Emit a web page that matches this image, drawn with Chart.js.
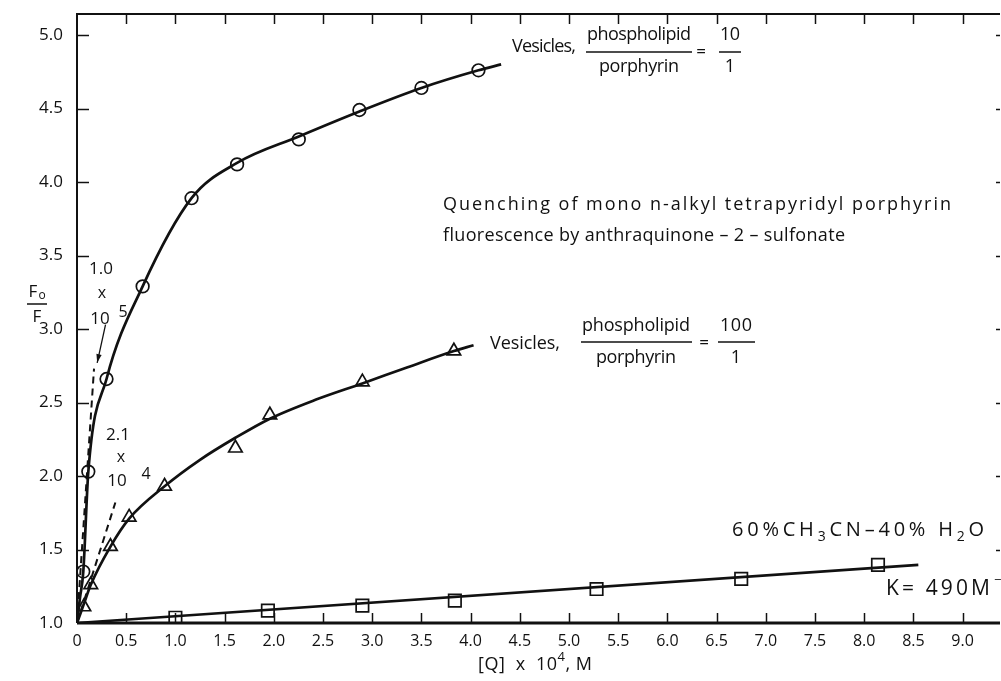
<!DOCTYPE html>
<html><head><meta charset="utf-8">
<script src="https://cdn.jsdelivr.net/npm/chart.js@4.4.1/dist/chart.umd.min.js"></script>
<style>html,body{margin:0;padding:0;background:#fff;}#wrap{width:1001px;height:681px;position:relative;}</style>
</head><body><div id="wrap"><canvas id="c" width="1001" height="681"></canvas></div>
<script>
// ---- data ----
const xTickValues = [0,0.5,1.0,1.5,2.0,2.5,3.0,3.5,4.0,4.5,5.0,5.5,6.0,6.5,7.0,7.5,8.0,8.5,9.0];
const yTickValues = [1.0,1.5,2.0,2.5,3.0,3.5,4.0,4.5,5.0];

// Vesicles 10/1 (circles)
const ves10X = [0.064,0.115,0.30,0.667,1.164,1.627,2.254,2.87,3.50,4.08];
const ves10Y = [1.35,2.03,2.66,3.29,3.89,4.12,4.29,4.49,4.64,4.76];
const ves10CurveX = [0,0.03,0.064,0.115,0.30,0.667,1.164,1.627,2.254,2.87,3.50,4.08,4.31];
const ves10CurveY = [1.0,1.17,1.35,2.03,2.66,3.29,3.89,4.13,4.31,4.48,4.64,4.76,4.80];

// Vesicles 100/1 (triangles)
const ves100X = [0.07,0.14,0.34,0.53,0.89,1.61,1.96,2.90,3.83];
const ves100Y = [1.11,1.26,1.52,1.72,1.93,2.19,2.415,2.64,2.85];
const ves100CurveX = [0,0.07,0.14,0.34,0.53,0.89,1.25,1.61,1.96,2.43,2.90,3.36,3.83,4.03];
const ves100CurveY = [1.0,1.13,1.26,1.52,1.71,1.93,2.11,2.26,2.39,2.52,2.63,2.74,2.85,2.89];

// 60% CH3CN - 40% H2O (squares)
const solvX = [1.0,1.94,2.90,3.84,5.28,6.75,8.14];
const solvY = [1.036,1.084,1.118,1.152,1.231,1.30,1.395];
const solvLineX = [0,8.55];
const solvLineY = [1.0,1.395];

// initial-slope dashed lines
const dash1X = [0,0.173];
const dash1Y = [1.0,2.73];
const dash2X = [0,0.39];
const dash2Y = [1.0,1.82];

const pts = (xs, ys) => xs.map((x,i)=>({x, y: ys[i]}));
const FONT = '"Open Sans", "Liberation Sans", sans-serif';

const overlay = {
  id: 'overlay',
  afterDraw(chart) {
    const ctx = chart.ctx, a = chart.chartArea;
    const xs = chart.scales.x, ys = chart.scales.y;
    ctx.save();
    ctx.strokeStyle = '#111'; ctx.fillStyle = '#111';
    // frame (left, bottom, top)
    ctx.lineWidth = 2;
    ctx.beginPath();
    ctx.moveTo(a.right, a.top); ctx.lineTo(a.left, a.top); ctx.lineTo(a.left, a.bottom);
    ctx.stroke();
    ctx.lineWidth = 2.8;
    ctx.beginPath(); ctx.moveTo(a.left, a.bottom); ctx.lineTo(a.right, a.bottom); ctx.stroke();
    // inner ticks
    ctx.lineWidth = 1.5;
    xTickValues.forEach(v => {
      const px = Math.round(xs.getPixelForValue(v)) + 0.5;
      if (v > 0) {
        ctx.beginPath(); ctx.moveTo(px, a.bottom); ctx.lineTo(px, a.bottom - 10); ctx.stroke();
        ctx.beginPath(); ctx.moveTo(px, a.top); ctx.lineTo(px, a.top + 10); ctx.stroke();
      }
    });
    yTickValues.forEach(v => {
      const py = Math.round(ys.getPixelForValue(v)) + 0.5;
      if (v > 1) {
        ctx.beginPath(); ctx.moveTo(a.left, py); ctx.lineTo(a.left + 12, py); ctx.stroke();
        ctx.beginPath(); ctx.moveTo(a.right, py); ctx.lineTo(a.right - 4, py); ctx.stroke();
      }
    });
    // arrow for 1.0 x 10^5
    const ax0 = xs.getPixelForValue(0.29), ay0 = ys.getPixelForValue(3.03);
    const ax1 = xs.getPixelForValue(0.205), ay1 = ys.getPixelForValue(2.77);
    ctx.lineWidth = 1.3;
    ctx.beginPath(); ctx.moveTo(ax0, ay0); ctx.lineTo(ax1, ay1); ctx.stroke();
    const ang = Math.atan2(ay1 - ay0, ax1 - ax0);
    ctx.beginPath();
    ctx.moveTo(ax1, ay1);
    ctx.lineTo(ax1 - 9*Math.cos(ang - 0.3), ay1 - 9*Math.sin(ang - 0.3));
    ctx.lineTo(ax1 - 9*Math.cos(ang + 0.3), ay1 - 9*Math.sin(ang + 0.3));
    ctx.closePath(); ctx.fill();

    // text helpers
    const T = (s, x, y, size, align, spacing) => {
      ctx.font = size + 'px ' + FONT;
      ctx.textAlign = align || 'center';
      ctx.textBaseline = 'middle';
      ctx.letterSpacing = (spacing || 0) + 'px';
      ctx.fillText(s, x, y);
      ctx.letterSpacing = '0px';
    };
    // text stretched (by letter spacing) to a visible width w starting at x
    const W = (s, x, y, size, w) => {
      ctx.font = size + 'px ' + FONT;
      ctx.letterSpacing = '0px';
      const m = ctx.measureText(s).width;
      const sp = s.length > 1 ? (w - m) / (s.length - 1) : 0;
      ctx.letterSpacing = sp + 'px';
      ctx.textAlign = 'left'; ctx.textBaseline = 'middle';
      ctx.fillText(s, x, y);
      ctx.letterSpacing = '0px';
    };
    const WC = (s, cx, y, size, w) => W(s, cx - w / 2, y, size, w);
    // sequence of pieces [text, size, dy] fitted to width w
    const S = (parts, x, y, w) => {
      let nat = 0, n = 0;
      parts.forEach(p => { ctx.font = p[1] + 'px ' + FONT; ctx.letterSpacing = '0px'; nat += ctx.measureText(p[0]).width; n += p[0].length; });
      const sp = (w - nat) / Math.max(1, n - 1);
      let cx = x;
      parts.forEach(p => {
        ctx.font = p[1] + 'px ' + FONT;
        ctx.letterSpacing = sp + 'px';
        ctx.textAlign = 'left'; ctx.textBaseline = 'middle';
        ctx.fillText(p[0], cx, y + (p[2] || 0));
        ctx.letterSpacing = '0px';
        cx += ctx.measureText(p[0]).width + sp * p[0].length;
      });
    };
    const L = (x0, x1, y) => { ctx.lineWidth = 1.5; ctx.beginPath(); ctx.moveTo(x0, y); ctx.lineTo(x1, y); ctx.stroke(); };

    // Y axis title F0 / F
    T('F', 33, 292, 17); T('o', 42, 296, 12);
    L(27, 47, 304);
    T('F', 37, 317, 17);
    // X axis title
    S([['[Q]  x  10', 18, 0], ['4', 13, -8], [', M', 18, 0]], 478, 665, 114);

    // Vesicles 10/1 label
    W('Vesicles,', 512, 47, 18, 64);
    WC('phospholipid', 639, 35, 18, 104);
    L(586, 692, 52);
    WC('porphyrin', 639, 67, 18, 80);
    T('=', 701, 52, 17);
    WC('10', 730, 35, 18, 20);
    L(719, 741, 52);
    T('1', 730, 67, 18);

    // Quenching title
    W('Quenching of mono n-alkyl tetrapyridyl porphyrin', 443, 205, 18, 508);
    W('fluorescence by anthraquinone \u2013 2 \u2013 sulfonate', 443, 236, 18, 402);

    // Vesicles 100/1 label
    W('Vesicles,', 490, 344, 18, 70);
    WC('phospholipid', 636, 326, 18, 108);
    L(581, 692, 342);
    WC('porphyrin', 636, 358, 18, 80);
    T('=', 704, 343, 17);
    WC('100', 736, 326, 18, 32);
    L(718, 755, 342);
    T('1', 736, 358, 18);

    // solvent label
    S([['60%CH', 20, 0], ['3', 14, 7], ['CN\u201340% H', 20, 0], ['2', 14, 7], ['O', 20, 0]], 732, 530, 252);
    W('K= 490M', 886, 589, 21, 104);
    T('\u22121', 994, 580, 13, 'left');

    // slope annotations
    T('1.0', 101, 269, 17); T('x', 102, 293, 16); T('10', 100, 319, 17); T('5', 123, 312, 16);
    T('2.1', 118, 435, 17); T('x', 121, 457, 16); T('10', 117, 481, 17); T('4', 146, 474, 16);
    ctx.restore();
  }
};

const lineDs = (data, w, dash) => ({
  data, showLine: true, borderColor: '#111', borderWidth: w, pointRadius: 0,
  cubicInterpolationMode: 'monotone', borderDash: dash || [], fill: false
});
const markDs = (data, style, r) => ({
  data, showLine: false, pointStyle: style, pointRadius: r, pointBorderWidth: 1.7,
  pointBackgroundColor: '#fff', pointBorderColor: '#111'
});

new Chart(document.getElementById('c'), {
  type: 'scatter',
  data: { datasets: [
    lineDs(pts(ves10CurveX, ves10CurveY), 2.7),
    lineDs(pts(ves100CurveX, ves100CurveY), 2.7),
    lineDs(pts(solvLineX, solvLineY), 2.7),
    lineDs(pts(dash1X, dash1Y), 2, [7, 5]),
    lineDs(pts(dash2X, dash2Y), 2, [7, 5]),
    markDs(pts(ves10X, ves10Y), 'circle', 6.3),
    markDs(pts(ves100X, ves100Y), 'triangle', 7.8),
    markDs(pts(solvX, solvY), 'rect', 8.8)
  ]},
  options: {
    responsive: false, animation: false, events: [],
    layout: { autoPadding: false, padding: { top: 14, right: 1, left: 0, bottom: 0 } },
    plugins: { legend: { display: false }, tooltip: { enabled: false } },
    scales: {
      x: {
        type: 'linear', min: 0, max: 9.38,
        grid: { display: false, drawTicks: false }, border: { display: false },
        afterBuildTicks: s => { s.ticks = xTickValues.map(v => ({ value: v })); },
        afterFit: s => { s.height = 58; s.paddingLeft = 0; s.paddingRight = 0; },
        ticks: { padding: 9, color: '#111', font: { family: FONT, size: 16 }, maxRotation: 0, autoSkip: false,
          callback: v => v === 0 ? '0' : v.toFixed(1) }
      },
      y: {
        type: 'linear', min: 1.0, max: 5.143,
        grid: { display: false, drawTicks: false }, border: { display: false },
        afterBuildTicks: s => { s.ticks = yTickValues.map(v => ({ value: v })); },
        afterFit: s => { s.width = 77; s.paddingTop = 0; s.paddingBottom = 0; },
        ticks: { padding: 14, color: '#111', font: { family: FONT, size: 17 }, autoSkip: false,
          callback: v => v.toFixed(1) }
      }
    }
  },
  plugins: [overlay]
});
</script></body></html>
